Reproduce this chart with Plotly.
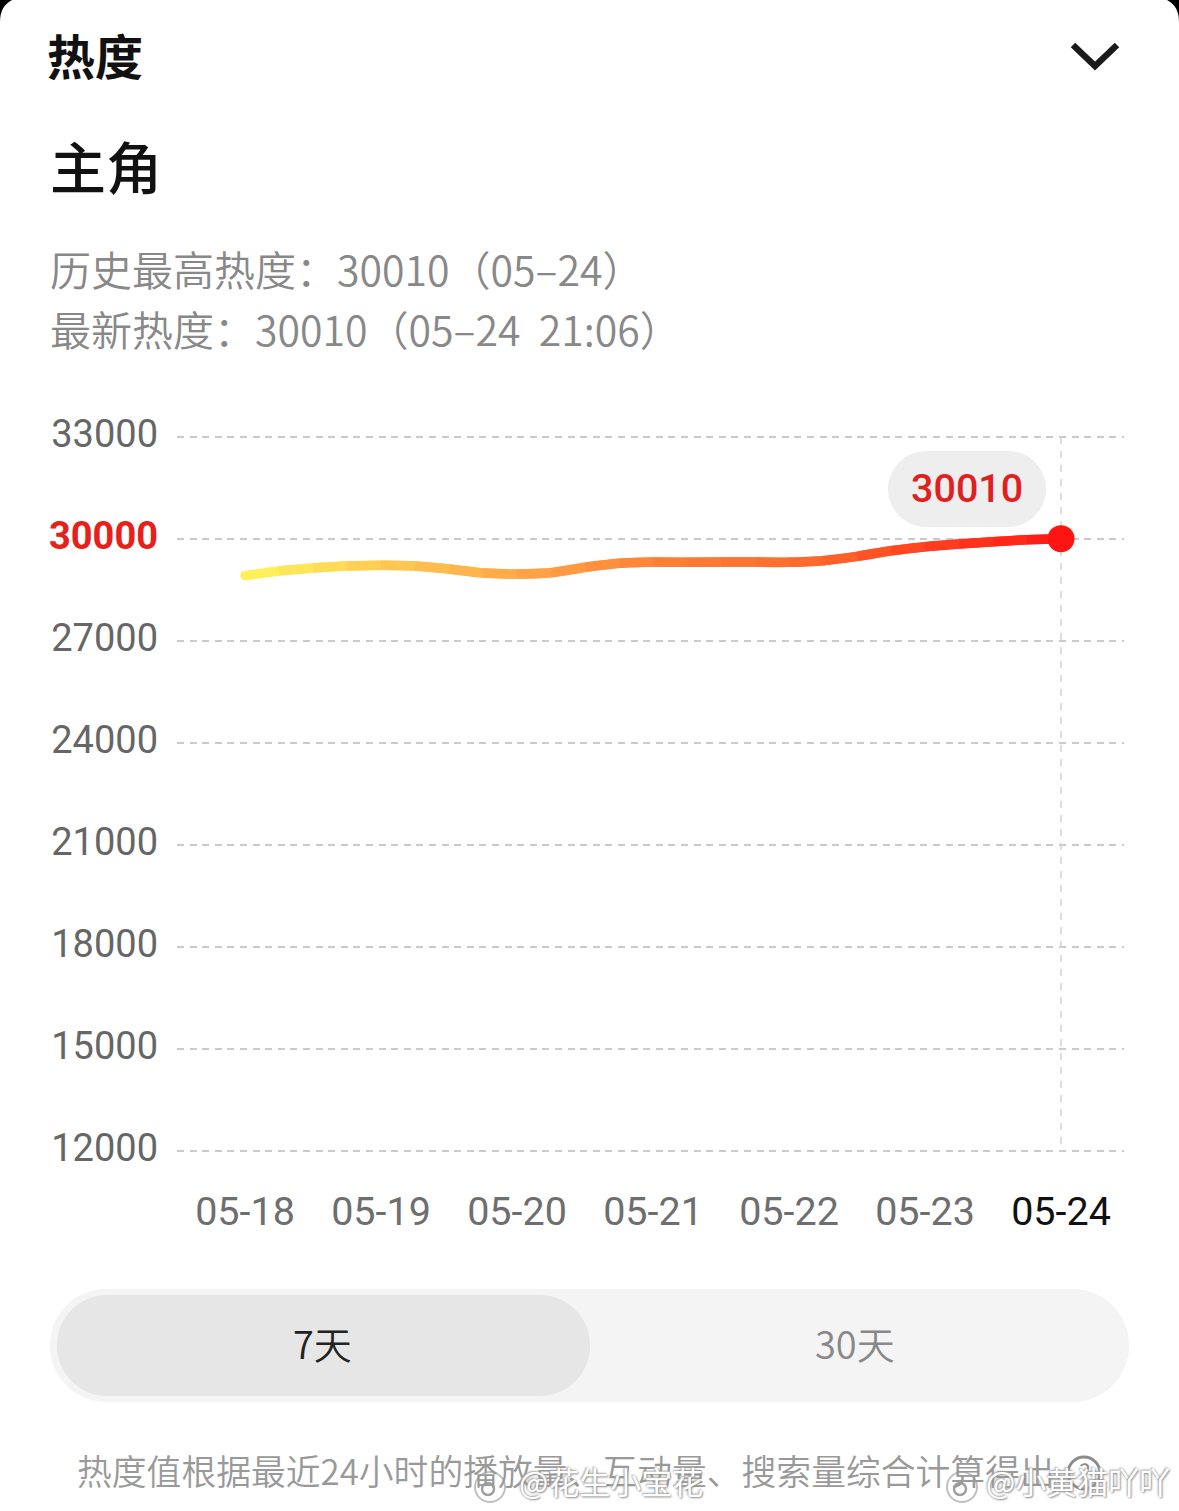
import plotly.graph_objects as go
import plotly.express as px

# quarter-day readings
days = [0, 0.25, 0.5, 0.75, 1, 1.25, 1.5, 1.75, 2, 2.25, 2.5, 2.75, 3,
        3.25, 3.5, 3.75, 4, 4.25, 4.5, 4.75, 5, 5.25, 5.5, 5.75, 6]
heat = [28920, 29058, 29147, 29206, 29226, 29206, 29118, 29000, 28970, 29008, 29167, 29285, 29323,
        29314, 29323, 29323, 29314, 29361, 29490, 29655, 29773, 29852, 29920, 29979, 30010]
dates = ["05-18", "05-19", "05-20", "05-21", "05-22", "05-23", "05-24"]
y_ticks = [12000, 15000, 18000, 21000, 24000, 27000, 30000, 33000]
grad_stops = [[0, "#FFF05A"], [0.17, "#FFC552"], [0.34, "#FFA045"], [0.5, "#FF7E36"],
              [0.67, "#FF6A2C"], [0.84, "#FF3A1E"], [1, "#FF1414"]]

CJK = "Noto Sans CJK SC"
NUM = "Roboto"
# plot box is 3px taller each side so the edge gridlines still get drawn
L, R, T, B = 177, 1124, 434, 1154
Y_PAD = 3 / 0.034


def px_x(p):
    return (p - L) / (R - L)


def px_y(p):
    return (B - p) / (B - T)


def pill(x0, y0, x1, y1, r, color):
    a, b, c, d = px_x(x0), px_x(x1), px_y(y0), px_y(y1)
    rx, ry = r / (R - L), r / (B - T)
    kx, ky = rx * 0.45, ry * 0.45
    path = (f"M {a+rx} {c} L {b-rx} {c} C {b-kx} {c} {b} {c-ky} {b} {c-ry} L {b} {d+ry} "
            f"C {b} {d+ky} {b-kx} {d} {b-rx} {d} L {a+rx} {d} C {a+kx} {d} {a} {d+ky} {a} {d+ry} "
            f"L {a} {c-ry} C {a} {c-ky} {a+kx} {c} {a+rx} {c} Z")
    return dict(type="path", xref="paper", yref="paper", path=path, fillcolor=color,
                line=dict(width=0), layer="below")


def label(text, x, y, size, color, anchor="left", weight=400, font=CJK, shadow=None):
    f = dict(family=font, size=size, color=color, weight=weight)
    if shadow:
        f["shadow"] = shadow
    return dict(text=text, xref="paper", yref="paper", x=px_x(x), y=px_y(y), showarrow=False,
                xanchor=anchor, yanchor="middle", font=f)


def circle(cx, cy, r, fill, line_color, width):
    return dict(type="circle", xref="paper", yref="paper", x0=px_x(cx - r), x1=px_x(cx + r),
                y0=px_y(cy + r), y1=px_y(cy - r), fillcolor=fill, line=dict(color=line_color, width=width))


colors = px.colors.sample_colorscale(grad_stops, [d / days[-1] for d in days], colortype="rgb")

fig = go.Figure()
# dashed guide at the last day
fig.add_trace(go.Scatter(x=[days[-1], days[-1]], y=[y_ticks[-1], y_ticks[0]], mode="lines",
                         line=dict(color="#d2d2d2", width=1.5, dash="7px,7px"), hoverinfo="skip"))
# gradient line: overlapping spline pieces, each later one paints over the tail of the one before
for i in range(len(days) - 1):
    fig.add_trace(go.Scatter(x=days[i:i + 3], y=heat[i:i + 3], mode="lines",
                             line=dict(color=colors[i], width=9.5, shape="spline"), hoverinfo="skip"))
fig.add_trace(go.Scatter(x=days[:1], y=heat[:1], mode="markers",
                         marker=dict(color=colors[0], size=9.5, line=dict(width=0)), hoverinfo="skip"))
fig.add_trace(go.Scatter(x=days[-1:], y=heat[-1:], mode="markers",
                         marker=dict(color="#FF1414", size=27, line=dict(width=0)), hoverinfo="skip"))

x_text = [f'<span style="color:#111111">{d}</span>' if d == dates[-1] else d for d in dates]
y_text = [f'<b><span style="color:#E8201A">{v}</span></b>' if v == 30000 else str(v) for v in y_ticks]

fig.update_xaxes(range=[-0.5, 6.463], tickmode="array", tickvals=list(range(7)), ticktext=x_text,
                 showgrid=False, zeroline=False, showline=False, ticks="", ticklabelstandoff=30,
                 tickfont=dict(family=NUM, size=39.5, color="#6e6e6e"))
fig.update_yaxes(range=[y_ticks[0] - Y_PAD, y_ticks[-1] + Y_PAD], tickmode="array", tickvals=y_ticks, ticktext=y_text,
                 showgrid=True, gridcolor="#cacaca", gridwidth=2, griddash="7px,5.6px",
                 zeroline=False, showline=False, ticks="", ticklabelstandoff=18, ticklabelshift=-3,
                 tickfont=dict(family=NUM, size=38, color="#666666"))

shapes = [
    pill(888, 451, 1046, 527, 38, "#EEEEEE"),
    pill(50, 1289, 1129, 1402, 56, "#F4F4F4"),
    pill(57, 1295, 590, 1396, 50, "#E6E6E6"),
    # chevron
    dict(type="path", xref="paper", yref="paper",
         path=f"M {px_x(1073)} {px_y(45)} L {px_x(1095)} {px_y(66)} L {px_x(1117)} {px_y(45)}",
         line=dict(color="#1a1a1a", width=6.5)),
    # black corners behind the white card
    dict(type="path", xref="paper", yref="paper", fillcolor="#000000", line=dict(width=0),
         path=f"M {px_x(0)} {px_y(0)} L {px_x(12)} {px_y(0)} Q {px_x(0)} {px_y(6)} {px_x(0)} {px_y(22)} Z"),
    dict(type="path", xref="paper", yref="paper", fillcolor="#000000", line=dict(width=0),
         path=f"M {px_x(1179)} {px_y(0)} L {px_x(1167)} {px_y(0)} Q {px_x(1179)} {px_y(6)} {px_x(1179)} {px_y(22)} Z"),
    # help icon
    circle(1084, 1473, 16, "rgba(0,0,0,0)", "#8c8c8c", 3),
    # weibo watermark logos
    circle(490, 1487, 15, "rgba(255,255,255,0.85)", "#c0c0c0", 2),
    circle(488, 1489, 6, "#ffffff", "#a0a0a0", 2.5),
    circle(962, 1487, 15, "rgba(255,255,255,0.85)", "#c0c0c0", 2),
    circle(960, 1489, 6, "#ffffff", "#a0a0a0", 2.5),
]

wm_shadow = "1px 1px 2px #8a8a8a, -1px -1px 2px #a8a8a8"
annotations = [
    label("热度", 45, 54, 48, "#111111", weight=700),
    label("主角", 48, 164, 56, "#111111", weight=500),
    label("历史最高热度：30010（05–24）", 48, 268, 41, "#888888", weight=350),
    label("最新热度：30010（05–24\u00a0 21:06）", 48, 328, 41, "#888888", weight=350),
    label("30010", 967, 488, 39.5, "#E02020", anchor="center", font=NUM, weight=500),
    label("7天", 322, 1342, 38, "#222222", anchor="center", weight=350),
    label("30天", 855, 1342, 38, "#888888", anchor="center", weight=350),
    label("热度值根据最近24小时的播放量、互动量、搜索量综合计算得出", 75, 1470, 34.8, "#999999", weight=350),
    label("?", 1084, 1471, 24, "#8c8c8c", anchor="center"),
    label("@花生小宝花", 517, 1480, 31, "#ffffff", shadow=wm_shadow),
    label("@小黄猫吖吖", 984, 1480, 31, "#ffffff", shadow=wm_shadow),
]

fig.update_layout(width=1179, height=1511, margin=dict(l=L, r=1179 - R, t=T, b=1511 - B),
                  paper_bgcolor="#ffffff", plot_bgcolor="#ffffff", showlegend=False,
                  shapes=shapes, annotations=annotations)

fig.write_html("out.html", config={"displayModeBar": False}, post_script="document.body.style.margin='0';")
